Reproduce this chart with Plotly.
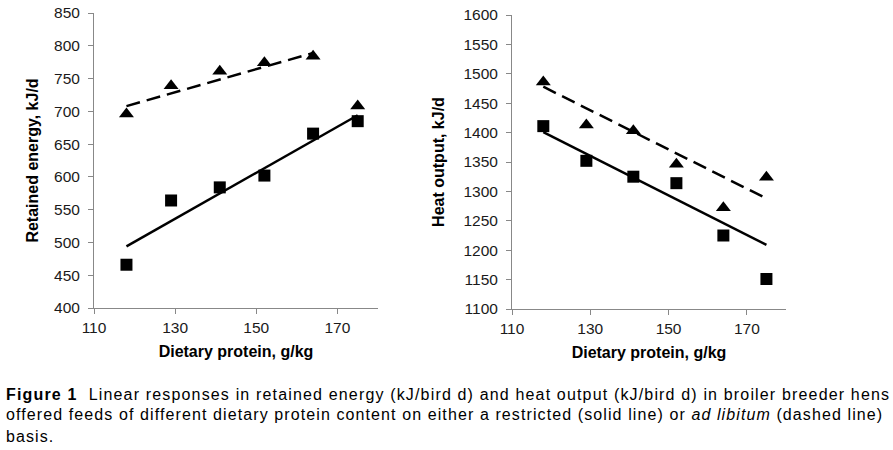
import plotly.graph_objects as go

# ---- data ----
protein = [118, 129, 141, 152, 164, 175]
ret_restricted = [466, 564, 584, 602, 666, 685]
ret_adlib = [696, 739, 761, 774, 784, 708]
heat_restricted = [1411, 1352, 1325, 1314, 1225, 1151]
heat_adlib = [1486, 1413, 1403, 1346, 1272, 1324]

# fitted trend line end points
ret_fit_restricted_x = [118, 175]
ret_fit_restricted_y = [494, 694]
ret_fit_adlib_x = [118, 164]
ret_fit_adlib_y = [708, 789]
heat_fit_restricted_x = [118, 175]
heat_fit_restricted_y = [1401, 1209]
heat_fit_adlib_x = [118, 175]
heat_fit_adlib_y = [1478, 1288]

x_ticks = [110, 130, 150, 170]

FONT = "Liberation Sans, Arial, sans-serif"
W, H = 893, 450

fig = go.Figure()

def add_panel(xa, ya, fx_r, fy_r, fx_a, fy_a, y_r, y_a):
    fig.add_trace(go.Scatter(x=fx_r, y=fy_r, mode="lines", xaxis=xa, yaxis=ya,
                             line=dict(color="black", width=2.5), showlegend=False,
                             hoverinfo="skip"))
    fig.add_trace(go.Scatter(x=fx_a, y=fy_a, mode="lines", xaxis=xa, yaxis=ya,
                             line=dict(color="black", width=2.5, dash="14px,7px"),
                             showlegend=False, hoverinfo="skip"))
    fig.add_trace(go.Scatter(x=protein, y=y_r, mode="markers", xaxis=xa, yaxis=ya,
                             marker=dict(symbol="square", size=12, color="black"),
                             name="Restricted", showlegend=False))
    fig.add_trace(go.Scatter(x=protein, y=y_a, mode="markers", xaxis=xa, yaxis=ya,
                             marker=dict(symbol="triangle-up", size=13, color="black"),
                             name="Ad libitum", showlegend=False))

add_panel("x", "y", ret_fit_restricted_x, ret_fit_restricted_y,
          ret_fit_adlib_x, ret_fit_adlib_y, ret_restricted, ret_adlib)
add_panel("x2", "y2", heat_fit_restricted_x, heat_fit_restricted_y,
          heat_fit_adlib_x, heat_fit_adlib_y, heat_restricted, heat_adlib)

axis_common = dict(showline=True, linecolor="#888888", linewidth=1, ticks="outside",
                   tickcolor="#888888", ticklen=5, showgrid=False, zeroline=False,
                   automargin=False,
                   tickfont=dict(family=FONT, size=15.5, color="#1a1a1a"))

title_font = dict(family=FONT, size=16, color="black", weight="bold")

fig.update_layout(
    width=W, height=H,
    margin=dict(l=0, r=0, t=0, b=0),
    paper_bgcolor="white", plot_bgcolor="white",
    xaxis=dict(domain=[94 / W, 378 / W], range=[110, 180], tickvals=x_ticks,
               anchor="y", title=dict(text="Dietary protein, g/kg", font=title_font, standoff=11),
               **axis_common),
    yaxis=dict(domain=[1 - 308 / H, 1 - 13 / H], range=[400, 850], dtick=50,
               anchor="x", ticklabelstandoff=5,
               title=dict(text="Retained energy, kJ/d", font=title_font, standoff=11),
               **axis_common),
    xaxis2=dict(domain=[512 / W, 786 / W], range=[110, 180], tickvals=x_ticks,
                anchor="y2", title=dict(text="Dietary protein, g/kg", font=title_font, standoff=11),
                **axis_common),
    yaxis2=dict(domain=[1 - 309 / H, 1 - 15 / H], range=[1100, 1600], dtick=50,
                anchor="x2", ticklabelstandoff=5,
                title=dict(text="Heat output, kJ/d", font=title_font, standoff=14),
                **axis_common),
)

cap_font = dict(family=FONT, size=16, color="black")
lines = [
    "<b>Figure 1</b>\u00a0\u00a0Linear responses in retained energy (kJ/bird d) and heat output (kJ/bird d) in broiler breeder hens",
    "offered feeds of different dietary protein content on either a restricted (solid line) or <i>ad libitum</i> (dashed line)",
    "basis.",
]
spacing = [1.16, 1.1, 1.1]
baselines = [401, 421, 443]
for txt, sp, b in zip(lines, spacing, baselines):
    fig.add_annotation(text=f'<span style="letter-spacing:{sp}px">{txt}</span>',
                       xref="paper", yref="paper", x=4 / W, y=1 - (b + 4) / H,
                       xanchor="left", yanchor="bottom", showarrow=False, align="left",
                       font=cap_font)

fig.write_html("out.html", config={"displayModeBar": False},
               post_script="document.body.style.margin='0';")
